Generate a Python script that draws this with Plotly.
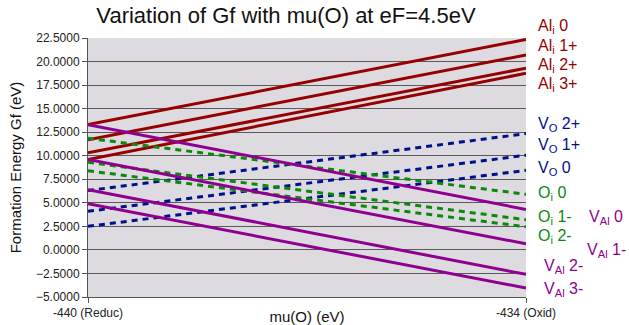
import plotly.graph_objects as go

# ---- data ----
mu_O = [-440, -434]
x_tick_vals = [-440, -434]
x_tick_text = ["-440 (Reduc)", "-434 (Oxid)"]

al_i_0 = [13.3, 22.35]
al_i_1p = [11.7, 20.7]
al_i_2p = [10.3, 19.3]
al_i_3p = [9.6, 18.75]

v_o_2p = [6.3, 12.35]
v_o_1p = [4.1, 10.05]
v_o_0 = [2.5, 8.45]

o_i_0 = [11.85, 5.9]
o_i_1m = [9.3, 3.2]
o_i_2m = [8.4, 2.45]

v_al_0 = [13.3, 4.3]
v_al_1m = [9.6, 0.65]
v_al_2m = [6.4, -2.6]
v_al_3m = [4.9, -4.05]

series_names = ["Al<sub>i</sub> 0", "Al<sub>i</sub> 1+", "Al<sub>i</sub> 2+", "Al<sub>i</sub> 3+",
                "V<sub>O</sub> 2+", "V<sub>O</sub> 1+", "V<sub>O</sub> 0",
                "O<sub>i</sub> 0", "O<sub>i</sub> 1-", "O<sub>i</sub> 2-",
                "V<sub>Al</sub> 0", "V<sub>Al</sub> 1-", "V<sub>Al</sub> 2-", "V<sub>Al</sub> 3-"]

RED = "#960000"
BLUE = "#00108C"
GREEN = "#0A8A0A"
PURPLE = "#900090"

series = [
    (al_i_0, RED, "solid"), (al_i_1p, RED, "solid"), (al_i_2p, RED, "solid"), (al_i_3p, RED, "solid"),
    (v_o_2p, BLUE, "dash"), (v_o_1p, BLUE, "dash"), (v_o_0, BLUE, "dash"),
    (o_i_0, GREEN, "dash"), (o_i_1m, GREEN, "dash"), (o_i_2m, GREEN, "dash"),
    (v_al_0, PURPLE, "solid"), (v_al_1m, PURPLE, "solid"), (v_al_2m, PURPLE, "solid"), (v_al_3m, PURPLE, "solid"),
]

fig = go.Figure()
for (vals, col, style), name in zip(series, series_names):
    fig.add_trace(go.Scatter(
        x=mu_O, y=vals, mode="lines", name=name,
        line=dict(color=col, width=3,
                  dash="solid" if style == "solid" else "6px,5px"),
        showlegend=False, hoverinfo="skip"))

# right-hand labels: (text, x px, y px, colour)
labels = [
    ("Al<sub>i</sub> 0", 536, 26, RED), ("Al<sub>i</sub> 1+", 536, 46, RED),
    ("Al<sub>i</sub> 2+", 536, 65, RED), ("Al<sub>i</sub> 3+", 536, 84, RED),
    ("V<sub>O</sub> 2+", 536, 124, BLUE), ("V<sub>O</sub> 1+", 536, 145, BLUE),
    ("V<sub>O</sub> 0", 536, 168, BLUE),
    ("O<sub>i</sub> 0", 536, 193, GREEN), ("O<sub>i</sub> 1-", 536, 218, GREEN),
    ("O<sub>i</sub> 2-", 536, 236, GREEN),
    ("V<sub>Al</sub> 0", 587, 218, PURPLE), ("V<sub>Al</sub> 1-", 585, 250, PURPLE),
    ("V<sub>Al</sub> 2-", 542, 266, PURPLE), ("V<sub>Al</sub> 3-", 542, 289, PURPLE),
]
L, R, T, B = 88, 103, 38, 28
W, H = 629, 325
pw, ph = W - L - R, H - T - B
for txt, px, py, col in labels:
    fig.add_annotation(text=txt, xref="paper", yref="paper",
                       x=(px - L) / pw, y=(H - B - py) / ph,
                       xanchor="left", yanchor="middle", showarrow=False,
                       font=dict(size=16, color=col, family="Liberation Sans, Arial, sans-serif"))

fig.update_layout(
    width=W, height=H,
    margin=dict(l=L, r=R, t=T, b=B, autoexpand=False),
    paper_bgcolor="white", plot_bgcolor="#DDDBE0",
    font=dict(family="Liberation Sans, Arial, sans-serif", color="#222"),
    title=dict(text="Variation of Gf with mu(O) at eF=4.5eV", xref="container", yref="container",
               x=286 / W, y=1 - 15 / H, xanchor="center", yanchor="middle",
               font=dict(size=22, color="#111")),
)
fig.update_xaxes(range=[-440, -434], tickvals=x_tick_vals, ticktext=x_tick_text,
                 showgrid=False, zeroline=False, showline=True, linecolor="#555", linewidth=1,
                 ticks="outside", ticklen=5, tickcolor="#555", tickfont=dict(size=12),
                 automargin=False,
                 title=dict(text="mu(O) (eV)", font=dict(size=15, color="#111"), standoff=0))
fig.update_yaxes(range=[-5, 22.5], dtick=2.5, tick0=-5, tickformat=".4f",
                 showgrid=True, gridcolor="#5a5a5a", gridwidth=1, zeroline=False,
                 showline=True, linecolor="#555", linewidth=1,
                 ticks="outside", ticklen=5, tickcolor="#555", tickfont=dict(size=12),
                 automargin=False,
                 title=dict(text="Formation Energy Gf (eV)", font=dict(size=15, color="#111"), standoff=10))

fig.write_html("out.html", config={"displayModeBar": False},
               post_script="document.body.style.margin='0px';document.body.style.overflow='hidden';")
